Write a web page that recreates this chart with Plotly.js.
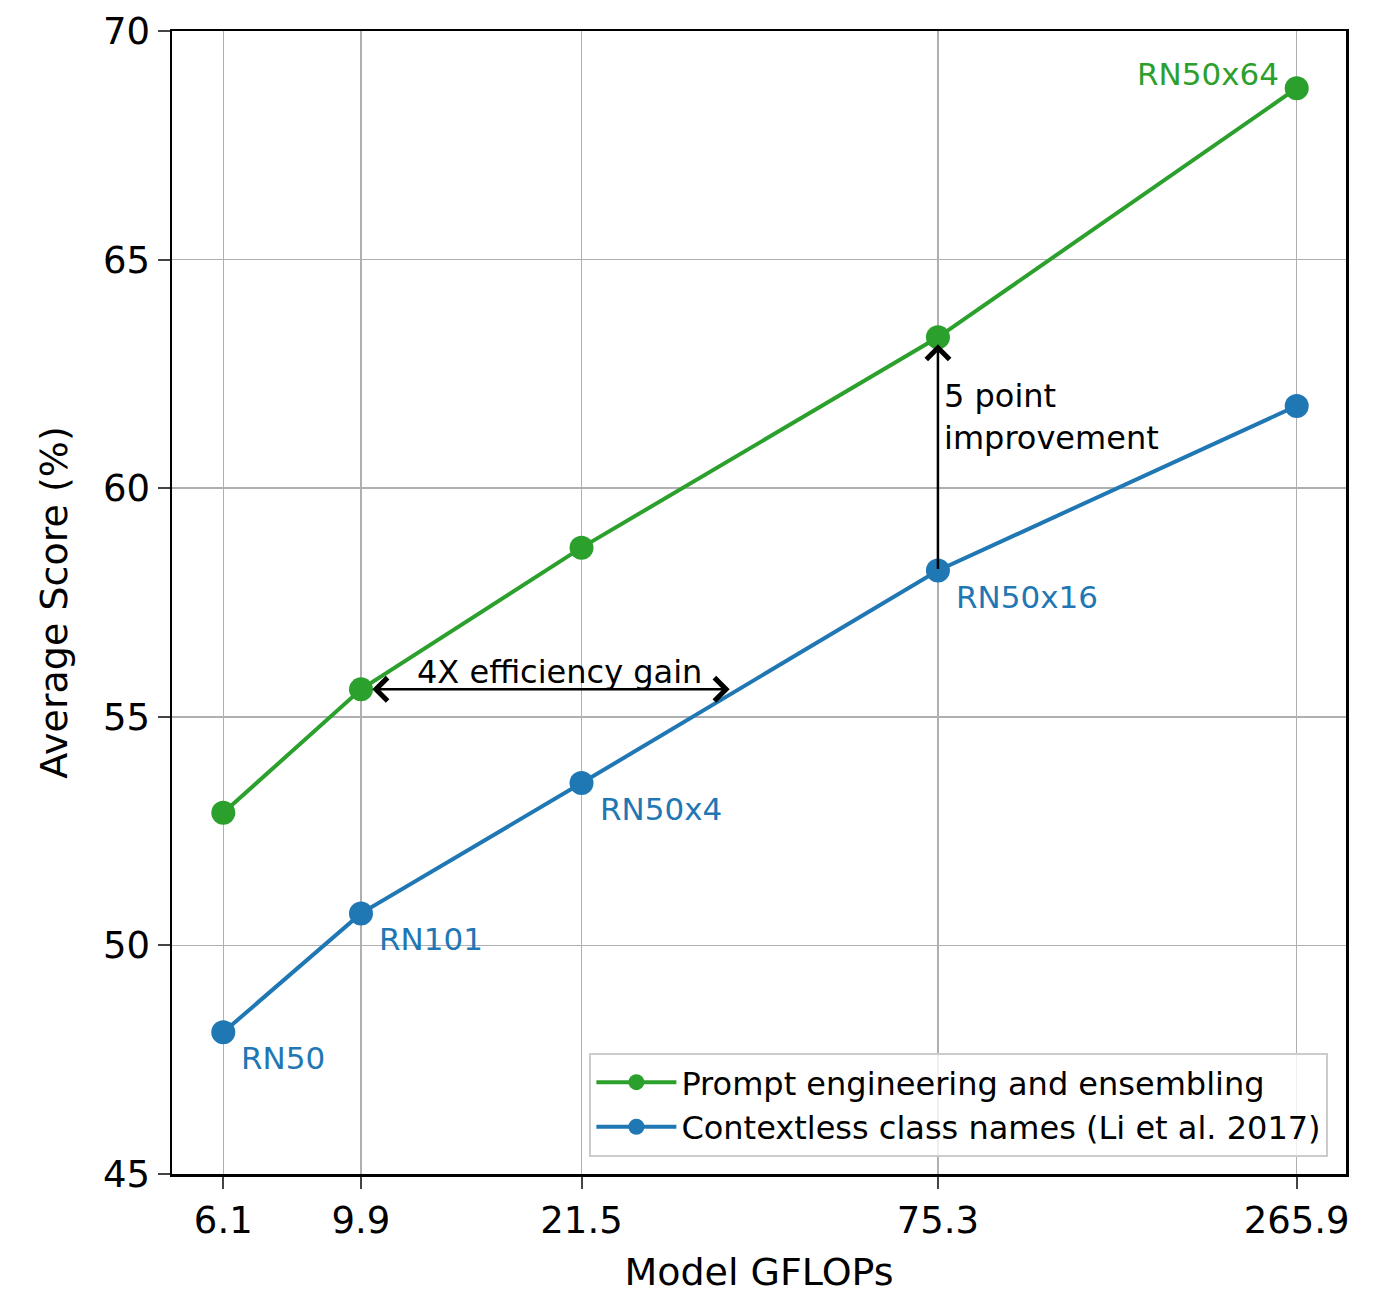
<!DOCTYPE html>
<html>
<head>
<meta charset="utf-8">
<script src="https://cdn.plot.ly/plotly-3.0.1.min.js"></script>
<style>body{margin:0;background:#fff}</style>
</head>
<body>
<div id="graph" style="width:1400px;height:1303px"></div>
<script>
// data
var gflops = [6.1, 9.9, 21.5, 75.3, 265.9];
var tickLabels = ['6.1', '9.9', '21.5', '75.3', '265.9'];
var modelNames = ['RN50', 'RN101', 'RN50x4', 'RN50x16', 'RN50x64'];
var promptScores = [52.9, 55.6, 58.7, 63.3, 68.75];
var contextlessScores = [48.1, 50.7, 53.55, 58.2, 61.8];

var green = '#2ca02c', blue = '#1f77b4';
var font = 'DejaVu Sans, sans-serif';
var lg = Math.log10;

var trace0 = {
    x: gflops, y: promptScores, mode: 'lines+markers',
    name: 'Prompt engineering and ensembling',
    line: {color: green, width: 4}, marker: {color: green, size: 24}
};
var trace1 = {
    x: gflops, y: contextlessScores, mode: 'lines+markers',
    name: 'Contextless class names (Li et al. 2017)',
    line: {color: blue, width: 4}, marker: {color: blue, size: 24}
};

var annotations = [];
// blue point labels (below right)
for (var i = 0; i < 4; i++) {
    annotations.push({
        x: lg(gflops[i]), y: contextlessScores[i], text: modelNames[i],
        showarrow: false, xanchor: 'left', yanchor: 'top', xshift: 16, yshift: -6,
        font: {family: font, size: 31, color: blue}
    });
}
annotations.push({
    x: lg(gflops[4]), y: promptScores[4], text: modelNames[4],
    showarrow: false, xanchor: 'right', yanchor: 'bottom', xshift: -16, yshift: -6,
    font: {family: font, size: 31, color: green}
});
// 5 point improvement arrow
annotations.push({
    x: lg(gflops[3]), y: promptScores[3] - 0.15, ax: lg(gflops[3]), ay: contextlessScores[3],
    axref: 'x', ayref: 'y', xref: 'x', yref: 'y', text: '', showarrow: true,
    arrowhead: 4, arrowsize: 1.8, arrowwidth: 2.5, arrowcolor: '#000'
});
annotations.push({
    x: lg(gflops[3]), y: 61.55, text: '5 point<br>improvement', align: 'left',
    showarrow: false, xanchor: 'left', xshift: 4,
    font: {family: font, size: 32, color: '#000'}
});
// 4X efficiency arrow
annotations.push({
    x: lg(36.2), y: promptScores[1], ax: lg(gflops[1]) + 0.015, ay: promptScores[1],
    axref: 'x', ayref: 'y', xref: 'x', yref: 'y', text: '', showarrow: true,
    arrowhead: 4, startarrowhead: 4, arrowside: 'end+start', arrowsize: 1.8,
    startarrowsize: 1.8, arrowwidth: 2.5, arrowcolor: '#000'
});
annotations.push({
    x: lg(19.9), y: promptScores[1], text: '4X efficiency gain',
    showarrow: false, yanchor: 'bottom', yshift: -4,
    font: {family: font, size: 32, color: '#000'}
});

var layout = {
    width: 1400, height: 1303,
    margin: {l: 172, r: 54, t: 31, b: 129},
    paper_bgcolor: '#fff', plot_bgcolor: '#fff',
    font: {family: font, color: '#000'},
    showlegend: true,
    legend: {
        x: 0.985, y: 0.015, xanchor: 'right', yanchor: 'bottom',
        bgcolor: 'rgba(255,255,255,0.8)', bordercolor: '#ccc', borderwidth: 2,
        font: {family: font, size: 32}, itemwidth: 80, tracegroupgap: 6
    },
    xaxis: {
        type: 'log', range: [0.707, 2.50],
        tickvals: gflops, ticktext: tickLabels,
        tickfont: {size: 37}, ticks: 'outside', ticklen: 12, tickwidth: 2,
        showgrid: true, gridcolor: '#b0b0b0', gridwidth: 1.5,
        showline: true, linecolor: '#000', linewidth: 2.5, mirror: true, zeroline: false,
        title: {text: 'Model GFLOPs', font: {size: 38}, standoff: 18}
    },
    yaxis: {
        range: [45, 70], dtick: 5,
        tickfont: {size: 37}, ticks: 'outside', ticklen: 12, tickwidth: 2,
        showgrid: true, gridcolor: '#b0b0b0', gridwidth: 1.5,
        showline: true, linecolor: '#000', linewidth: 2.5, mirror: true, zeroline: false,
        title: {text: 'Average Score (%)', font: {size: 38}, standoff: 24}
    },
    annotations: annotations
};

Plotly.newPlot('graph', [trace0, trace1], layout, {staticPlot: true});
</script>
</body>
</html>
